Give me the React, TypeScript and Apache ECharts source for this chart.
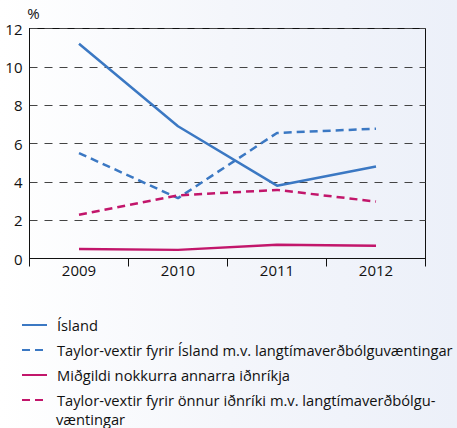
import React, { useEffect, useRef } from "react";
import * as echarts from "echarts";

const years = ["2009", "2010", "2011", "2012"];
const island = [11.2, 6.9, 3.8, 4.8];
const taylorIsland = [5.5, 3.15, 6.55, 6.77];
const midgildi = [0.5, 0.45, 0.72, 0.66];
const taylorOnnur = [2.28, 3.29, 3.58, 2.97];
const seriesNames = [
  "Ísland",
  "Taylor-vextir fyrir Ísland m.v. langtímaverðbólguvæntingar",
  "Miðgildi nokkurra annarra iðnríkja",
  "Taylor-vextir fyrir önnur iðnríki m.v. langtímaverðbólgu-",
];
const legendWrap = "væntingar";

const BLUE = "#3b78c3";
const MAGENTA = "#c2166b";
const FONT = "'Open Sans', 'Noto Sans', sans-serif";

export default function App() {
  const ref = useRef<HTMLDivElement>(null);
  useEffect(() => {
    if (!ref.current) return;
    const chart = echarts.init(ref.current, undefined, { renderer: "svg" });
    const mk = (name: string, data: number[], color: string, dashed: boolean) => ({
      name,
      type: "line",
      data,
      symbol: "none",
      showSymbol: false,
      lineStyle: { color, width: 2.5, type: dashed ? [8, 5] : "solid" },
      itemStyle: { color },
    });
    chart.setOption({
      animation: false,
      textStyle: { fontFamily: FONT },
      grid: {
        left: 29.5,
        top: 28.5,
        width: 396,
        height: 230,
        show: true,
        borderColor: "#111",
        borderWidth: 1,
        backgroundColor: "transparent",
      },
      xAxis: {
        type: "category",
        data: years,
        boundaryGap: true,
        axisLine: { lineStyle: { color: "#111", width: 1 } },
        axisTick: { show: true, length: 8, lineStyle: { color: "#111" } },
        axisLabel: { color: "#111", fontSize: 15, margin: 4, fontFamily: FONT },
      },
      yAxis: {
        type: "value",
        min: 0,
        max: 12,
        interval: 2,
        name: "%",
        nameLocation: "end",
        nameGap: 8,
        nameTextStyle: { color: "#111", fontSize: 15, fontFamily: FONT, align: "center", padding: [0, 0, 0, 8] },
        axisLine: { show: true, lineStyle: { color: "#111", width: 1 } },
        axisTick: { show: false },
        axisLabel: { color: "#111", fontSize: 15, margin: 7, fontFamily: FONT },
        splitLine: { show: true, lineStyle: { color: "#444", width: 1.2, type: [8, 7] } },
      },
      legend: {
        orient: "vertical",
        left: 16,
        top: 310,
        height: 120,
        itemWidth: 25,
        itemHeight: 14,
        itemGap: 5,
        itemStyle: { opacity: 0 },
        textStyle: { color: "#111", fontSize: 14.7, fontFamily: FONT, lineHeight: 20, padding: [0, 0, 0, 5] },
        data: seriesNames,
      },
      graphic: [
        {
          type: "text",
          left: 56,
          top: 411,
          style: { text: legendWrap, fill: "#111", font: `14.7px ${FONT}` },
        },
      ],
      series: [
        mk(seriesNames[0], island, BLUE, false),
        mk(seriesNames[1], taylorIsland, BLUE, true),
        mk(seriesNames[2], midgildi, MAGENTA, false),
        mk(seriesNames[3], taylorOnnur, MAGENTA, true),
      ],
    });
    return () => chart.dispose();
  }, []);
  return (
    <div
      style={{
        position: "fixed",
        left: 0,
        top: 0,
        width: 457,
        height: 428,
        background: "linear-gradient(to right, #ffffff 0%, #f4f6fb 50%, #ecf0f9 100%)",
      }}
    >
      <div ref={ref} style={{ width: 457, height: 428 }} />
    </div>
  );
}
